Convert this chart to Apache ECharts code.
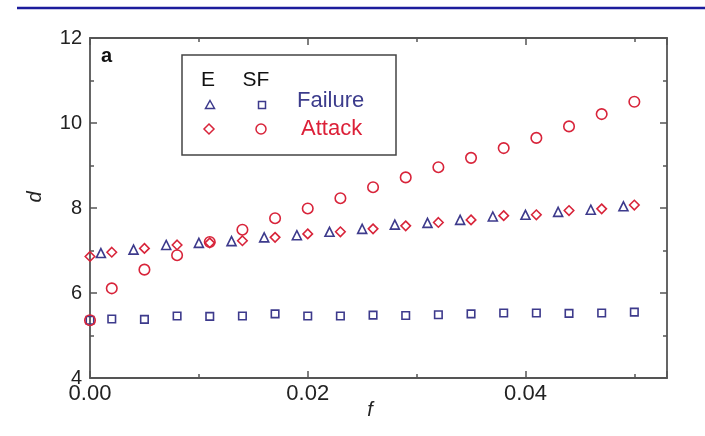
<!DOCTYPE html>
<html><head><meta charset="utf-8">
<script src="https://cdn.jsdelivr.net/npm/echarts@6/dist/echarts.min.js"></script>
<style>html,body{margin:0;padding:0;background:#fff}#c{width:705px;height:436px}</style>
</head><body><div id="c"></div>
<script>
// f values for the scale-free (SF) series and the E attack series
const fSF = [0, 0.002, 0.005, 0.008, 0.011, 0.014, 0.017, 0.020, 0.023, 0.026, 0.029, 0.032, 0.035, 0.038, 0.041, 0.044, 0.047, 0.050];
// f values for the E failure series
const fE = [0.001, 0.004, 0.007, 0.010, 0.013, 0.016, 0.019, 0.022, 0.025, 0.028, 0.031, 0.034, 0.037, 0.040, 0.043, 0.046, 0.049];

const eFailure  = [6.94, 7.02, 7.13, 7.18, 7.22, 7.31, 7.36, 7.44, 7.51, 7.61, 7.65, 7.72, 7.80, 7.84, 7.91, 7.96, 8.04];
const eAttack   = [6.86, 6.96, 7.05, 7.13, 7.18, 7.23, 7.31, 7.39, 7.44, 7.51, 7.58, 7.66, 7.72, 7.82, 7.84, 7.94, 7.98, 8.07];
const sfFailure = [5.36, 5.39, 5.38, 5.46, 5.45, 5.46, 5.51, 5.46, 5.46, 5.48, 5.47, 5.49, 5.51, 5.53, 5.53, 5.52, 5.53, 5.55];
const sfAttack  = [5.36, 6.11, 6.55, 6.89, 7.20, 7.49, 7.76, 7.99, 8.23, 8.49, 8.72, 8.96, 9.18, 9.41, 9.65, 9.92, 10.21, 10.50];

const xTickLabels = ['0.00', '0.02', '0.04'];
const yTickLabels = ['4', '6', '8', '10', '12'];

const BLUE = '#3d3a8c';
const RED = '#d8243a';
const AX = '#555';
const FONT = 'Liberation Sans, Arial, Helvetica, sans-serif';

function xLabel(v) {
  const k = v / 0.02;
  const r = Math.round(k);
  if (Math.abs(k - r) < 1e-6 && r >= 0 && r < xTickLabels.length) return xTickLabels[r];
  return '';
}
function yLabel(v) {
  const k = (v - 4) / 2;
  const r = Math.round(k);
  if (Math.abs(k - r) < 1e-6 && r >= 0 && r < yTickLabels.length) return yTickLabels[r];
  return '';
}

function xAxisDef(pos, major, labels) {
  return {
    type: 'value', position: pos, min: 0, max: 0.053,
    interval: major ? 0.02 : 0.01,
    axisLine: { show: major, onZero: false, lineStyle: { color: AX, width: 1.8 } },
    axisTick: { show: true, inside: true, length: major ? 7 : 4, lineStyle: { color: AX, width: 1.5 } },
    axisLabel: { show: labels, formatter: xLabel, fontSize: 22, color: '#222', margin: 5, fontFamily: FONT },
    splitLine: { show: false }
  };
}
function yAxisDef(pos, labels) {
  return {
    type: 'value', position: pos, min: 4, max: 12, interval: 2,
    axisLine: { show: true, onZero: false, lineStyle: { color: AX, width: 1.8 } },
    axisTick: { show: true, inside: true, length: 7, lineStyle: { color: AX, width: 1.5 } },
    minorTick: { show: true, splitNumber: 2, length: 4, lineStyle: { color: AX, width: 1.5 } },
    axisLabel: { show: labels, formatter: yLabel, fontSize: 20, color: '#222', margin: 8, fontFamily: FONT },
    splitLine: { show: false }
  };
}

function hollow(color, size, symbol) {
  return {
    symbol: symbol, symbolSize: size,
    itemStyle: { color: 'rgba(0,0,0,0)', borderColor: color, borderWidth: 1.6, opacity: 1 }
  };
}

const chart = echarts.init(document.getElementById('c'), null, { renderer: 'canvas' });
chart.setOption({
  animation: false,
  backgroundColor: '#fff',
  grid: { left: 90, right: 38, top: 38, bottom: 58, containLabel: false, outerBoundsMode: 'none' },
  xAxis: [
    xAxisDef('bottom', true, true),
    xAxisDef('bottom', false, false),
    xAxisDef('top', true, false),
    xAxisDef('top', false, false)
  ],
  yAxis: [ yAxisDef('left', true), yAxisDef('right', false) ],
  series: [
    Object.assign({ type: 'scatter', name: 'SF Failure', xAxisIndex: 0, yAxisIndex: 0,
      data: fSF.map((f, i) => [f, sfFailure[i]]) }, hollow(BLUE, 7.5, 'rect')),
    Object.assign({ type: 'scatter', name: 'E Failure', xAxisIndex: 0, yAxisIndex: 0,
      data: fE.map((f, i) => [f, eFailure[i]]) }, hollow(BLUE, 9, 'triangle')),
    Object.assign({ type: 'scatter', name: 'E Attack', xAxisIndex: 0, yAxisIndex: 0,
      data: fSF.map((f, i) => [f, eAttack[i]]) }, hollow(RED, 9.5, 'diamond')),
    Object.assign({ type: 'scatter', name: 'SF Attack', xAxisIndex: 0, yAxisIndex: 0,
      data: fSF.map((f, i) => [f, sfAttack[i]]) }, hollow(RED, 10.5, 'circle'))
  ],
  graphic: [
    { type: 'line', shape: { x1: 17, y1: 8, x2: 705, y2: 8 }, style: { stroke: '#1c1c9c', lineWidth: 2.5 } },
    { type: 'text', x: 101, y: 56, style: { text: 'a', font: 'bold 20px ' + FONT, fill: '#111', textVerticalAlign: 'middle' } },
    { type: 'text', x: 35, y: 197, rotation: Math.PI / 2, style: { text: 'd', font: 'italic 20px ' + FONT, fill: '#222', textAlign: 'center', textVerticalAlign: 'middle' } },
    { type: 'text', x: 370, y: 410, style: { text: 'f', font: 'italic 20px ' + FONT, fill: '#222', textAlign: 'center', textVerticalAlign: 'middle' } },
    // legend box
    { type: 'rect', shape: { x: 182, y: 55, width: 214, height: 100 }, style: { fill: 'none', stroke: '#444', lineWidth: 1.5 } },
    { type: 'text', x: 208, y: 80, style: { text: 'E', font: '21px ' + FONT, fill: '#111', textAlign: 'center', textVerticalAlign: 'middle' } },
    { type: 'text', x: 256, y: 80, style: { text: 'SF', font: '21px ' + FONT, fill: '#111', textAlign: 'center', textVerticalAlign: 'middle' } },
    { type: 'polygon', shape: { points: [[210, 100.5], [214.5, 108.5], [205.5, 108.5]] }, style: { fill: 'none', stroke: BLUE, lineWidth: 1.5 } },
    { type: 'rect', shape: { x: 258.5, y: 101.5, width: 7, height: 7 }, style: { fill: 'none', stroke: BLUE, lineWidth: 1.5 } },
    { type: 'text', x: 297, y: 101, style: { text: 'Failure', font: '22px ' + FONT, fill: '#3c3c8c', textVerticalAlign: 'middle' } },
    { type: 'polygon', shape: { points: [[209, 124], [214, 129], [209, 134], [204, 129]] }, style: { fill: 'none', stroke: RED, lineWidth: 1.5 } },
    { type: 'circle', shape: { cx: 261, cy: 129, r: 5 }, style: { fill: 'none', stroke: RED, lineWidth: 1.5 } },
    { type: 'text', x: 301, y: 129, style: { text: 'Attack', font: '22px ' + FONT, fill: '#dc2038', textVerticalAlign: 'middle' } }
  ]
});
</script>
</body></html>
